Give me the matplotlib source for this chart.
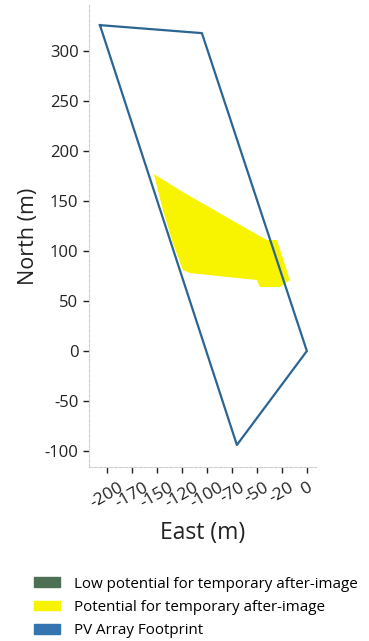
import numpy as np
import matplotlib.pyplot as plt
from matplotlib.patches import Patch

plt.rcParams['font.family'] = ['Open Sans', 'DejaVu Sans']

# Контур массива ФЭ (восток, север), м
pv_east = [-207, -105, 0, -70, -207]
pv_north = [326, 318, 0, -94, 326]

# Зона возможного остаточного изображения
glare_east = [-153, -124, -70, -40, -30, -17, -27, -47, -50, -117, -124, -134, -144, -153]
glare_north = [177, 159, 128, 111, 111, 71, 64, 64, 71, 78, 81, 108, 141, 177]

xticks = [-200, -175, -150, -125, -100, -75, -50, -25, 0]
xtick_labels = ['-200', '-170', '-150', '-120', '-100', '-70', '-50', '-20', '0']
yticks = [-100, -50, 0, 50, 100, 150, 200, 250, 300]

fig = plt.figure(figsize=(3.69, 6.41), dpi=100)
ax = fig.add_axes([0.241, 0.2715, 0.615, 0.7205])

ax.fill(glare_east, glare_north, color='#f8f400', lw=0)
ax.plot(pv_east, pv_north, color='#2b6592', lw=1.6)

ax.set_xlim(-218, 9)
ax.set_ylim(-116, 346)
ax.set_aspect('equal')

ax.set_xticks(xticks)
ax.set_xticklabels(xtick_labels, rotation=30, fontsize=12.5)
ax.set_yticks(yticks)
ax.set_yticklabels([str(v) for v in yticks], fontsize=12)
ax.tick_params(colors='#222222', length=4, width=1)
ax.tick_params(axis='x', pad=5)

for s in ['top', 'right']:
    ax.spines[s].set_visible(False)
for s in ['left', 'bottom']:
    ax.spines[s].set_color('#cfcfcf')
    ax.spines[s].set_linewidth(0.8)
    ax.spines[s].set_linestyle((0, (3, 1.5)))

ax.set_xlabel('East (m)', fontsize=16.5, color='#222222', labelpad=7)
ax.set_ylabel('North (m)', fontsize=15.5, color='#222222')

handles = [
    Patch(color='#4d7055', label='Low potential for temporary after-image'),
    Patch(color='#f8f400', label='Potential for temporary after-image'),
    Patch(color='#3474b0', label='PV Array Footprint'),
]
fig.legend(handles=handles, loc='upper left', bbox_to_anchor=(0.075, 0.11),
           frameon=False, fontsize=10.9, handlelength=1.75, handleheight=0.6,
           handletextpad=0.9, labelspacing=0.55, borderaxespad=0)

fig.savefig('out.png', dpi=100)
